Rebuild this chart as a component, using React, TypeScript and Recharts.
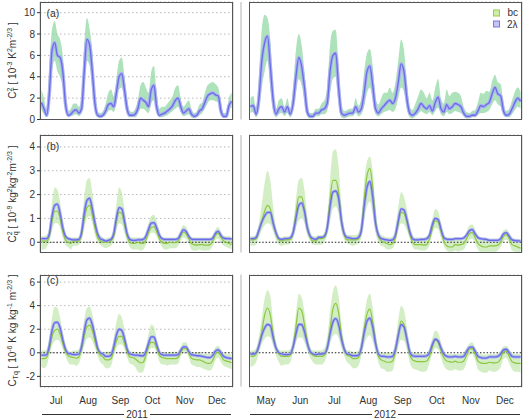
import React from 'react';
import {
  ComposedChart,
  Area,
  Line,
  XAxis,
  YAxis,
  CartesianGrid,
  ReferenceLine,
} from 'recharts';

const MONTHS_2011 = ['Jul', 'Aug', 'Sep', 'Oct', 'Nov', 'Dec'];
const MONTHS_2012 = ['May', 'Jun', 'Jul', 'Aug', 'Sep', 'Oct', 'Nov', 'Dec'];
// hour of day of each composite point inside one month slot
const HOURS = [1, 3, 5, 7, 9, 11, 13, 15, 17, 19, 21, 23];

const TICKS_A = [0, 2, 4, 6, 8, 10];
const TICKS_B = [0, 1, 2, 3, 4];
const TICKS_C = [-2, 0, 2, 4, 6];

// (a) C_T^2, 2011
const ct2Lam2011 = [
  1.6, 1.0, 0.4, 2.5, 6.5, 7.2, 6.0, 5.8, 4.5, 1.5, 0.4, 0.5,
  0.8, 0.9, 0.6, 1.0, 4.5, 7.5, 7.0, 4.5, 1.5, 0.4, 0.3, 0.4,
  0.8, 1.4, 1.5, 1.2, 2.5, 4.0, 4.3, 2.8, 1.0, 0.4, 0.4, 0.5,
  1.0, 2.0, 1.8, 1.6, 1.2, 2.8, 3.2, 1.2, 0.4, 0.5, 0.6, 0.8,
  1.0, 1.3, 1.8, 2.0, 1.2, 0.6, 0.8, 1.0, 0.5, 0.3, 0.4, 0.8,
  1.0, 1.6, 2.2, 2.4, 2.5, 2.3, 2.2, 0.8, 0.3, 0.3, 1.3, 1.7,
];
const ct2Hi2011 = [
  2.8, 2.0, 0.8, 5.0, 8.5, 9.2, 8.0, 7.5, 6.0, 2.5, 0.8, 1.0,
  1.5, 1.5, 1.2, 2.0, 7.0, 9.5, 8.5, 6.5, 2.5, 0.8, 0.6, 0.8,
  1.5, 2.5, 2.8, 2.2, 3.8, 5.5, 5.8, 4.0, 1.8, 0.8, 0.7, 1.0,
  1.8, 3.2, 3.5, 3.0, 2.5, 4.5, 5.0, 2.5, 1.0, 1.2, 1.2, 1.5,
  1.8, 2.2, 3.0, 3.2, 2.0, 1.2, 1.5, 1.8, 1.0, 0.6, 0.8, 1.4,
  1.6, 2.5, 3.2, 3.4, 3.5, 3.3, 3.0, 1.5, 0.6, 0.6, 2.0, 2.5,
];
const ct2Lo2011 = [
  0.9, 0.5, 0.2, 1.5, 4.5, 5.5, 4.5, 4.0, 3.0, 0.8, 0.2, 0.3,
  0.4, 0.5, 0.3, 0.6, 3.0, 5.5, 5.0, 3.0, 0.8, 0.2, 0.1, 0.2,
  0.4, 0.8, 0.9, 0.7, 1.5, 2.8, 3.0, 1.8, 0.5, 0.2, 0.2, 0.2,
  0.5, 1.0, 1.0, 0.8, 0.6, 1.5, 1.8, 0.6, 0.2, 0.2, 0.3, 0.4,
  0.6, 0.8, 1.0, 1.2, 0.7, 0.3, 0.4, 0.5, 0.2, 0.1, 0.2, 0.4,
  0.6, 1.0, 1.5, 1.8, 1.8, 1.7, 1.6, 0.5, 0.2, 0.2, 0.9, 1.1,
];

// (a) C_T^2, 2012
const ct2Lam2012 = [
  1.2, 1.3, 0.5, 2.0, 5.5, 7.2, 7.8, 5.0, 1.8, 0.5, 1.0, 1.2,
  0.7, 1.2, 0.5, 1.5, 4.0, 5.8, 5.0, 3.0, 0.7, 0.3, 0.3, 0.6,
  0.6, 0.9, 1.0, 1.5, 4.5, 6.0, 6.2, 3.0, 0.6, 0.4, 0.5, 0.6,
  0.6, 1.2, 0.7, 1.0, 2.5, 4.5, 5.0, 3.2, 1.0, 0.6, 1.0, 1.3,
  1.6, 1.8, 1.5, 2.0, 3.5, 5.2, 4.5, 2.0, 0.6, 0.4, 0.6, 1.0,
  1.5, 1.2, 1.0, 1.3, 0.8, 1.6, 2.1, 1.0, 0.7, 1.4, 1.0, 1.2,
  1.5, 1.4, 1.2, 0.6, 0.3, 0.3, 0.4, 0.4, 0.8, 1.3, 1.2, 1.4,
  1.6, 2.4, 3.0, 2.4, 2.2, 0.8, 0.4, 0.5, 1.0, 1.6, 2.0, 1.7,
];
const ct2Hi2012 = [
  2.0, 2.2, 1.0, 4.0, 8.5, 9.8, 9.5, 7.5, 3.0, 1.0, 1.8, 2.0,
  1.2, 2.0, 1.0, 3.0, 6.5, 8.0, 7.0, 4.5, 1.5, 0.6, 0.6, 1.0,
  1.0, 1.5, 1.8, 3.0, 7.0, 8.3, 8.4, 5.0, 1.4, 0.8, 0.9, 1.0,
  1.0, 2.0, 1.3, 2.0, 4.5, 6.2, 6.6, 5.0, 2.0, 1.4, 2.0, 2.5,
  2.5, 3.0, 2.5, 3.5, 5.5, 7.5, 6.5, 3.5, 1.2, 0.9, 1.5, 2.2,
  2.8, 2.5, 2.0, 2.5, 1.8, 3.0, 3.8, 2.0, 1.5, 2.8, 2.2, 2.5,
  2.6, 2.5, 2.2, 1.2, 0.7, 0.6, 0.8, 0.9, 1.6, 2.5, 2.4, 2.7,
  2.6, 3.6, 4.2, 3.5, 3.3, 1.5, 0.8, 1.0, 1.8, 2.6, 3.0, 2.6,
];
const ct2Lo2012 = [
  0.6, 0.7, 0.2, 1.0, 3.0, 4.5, 5.5, 3.0, 0.8, 0.2, 0.5, 0.6,
  0.3, 0.6, 0.2, 0.8, 2.5, 3.8, 3.2, 1.8, 0.3, 0.1, 0.1, 0.3,
  0.3, 0.5, 0.5, 0.8, 2.5, 3.8, 4.0, 1.5, 0.2, 0.1, 0.2, 0.3,
  0.3, 0.6, 0.3, 0.5, 1.2, 2.5, 3.0, 1.8, 0.5, 0.3, 0.5, 0.7,
  0.8, 0.9, 0.7, 1.0, 2.0, 3.0, 2.6, 1.0, 0.2, 0.1, 0.3, 0.5,
  0.8, 0.6, 0.5, 0.7, 0.4, 0.8, 1.1, 0.5, 0.3, 0.7, 0.5, 0.6,
  0.8, 0.7, 0.6, 0.3, 0.1, 0.1, 0.2, 0.2, 0.4, 0.6, 0.6, 0.7,
  0.9, 1.4, 1.8, 1.4, 1.2, 0.4, 0.2, 0.2, 0.5, 0.9, 1.2, 1.0,
];

// (b) C_q^2, 2011
const cq2Lam2011 = [
  0.15, 0.15, 0.15, 0.35, 1.1, 1.55, 1.6, 1.2, 0.6, 0.25, 0.15, 0.12,
  0.1, 0.1, 0.12, 0.4, 1.2, 1.75, 1.85, 1.4, 0.8, 0.35, 0.15, 0.1,
  0.05, 0.08, 0.12, 0.35, 1.0, 1.45, 1.4, 0.9, 0.35, 0.12, 0.08, 0.08,
  0.1, 0.1, 0.12, 0.25, 0.55, 0.8, 0.82, 0.6, 0.3, 0.15, 0.12, 0.12,
  0.12, 0.12, 0.12, 0.15, 0.35, 0.52, 0.45, 0.25, 0.13, 0.12, 0.12, 0.12,
  0.12, 0.12, 0.12, 0.12, 0.18, 0.38, 0.46, 0.28, 0.17, 0.15, 0.15, 0.13,
];
const cq2Bc2011 = [
  0.05, 0.05, 0.05, 0.25, 0.9, 1.3, 1.3, 1.0, 0.45, 0.1, 0.0, -0.05,
  0.05, 0.05, 0.05, 0.3, 0.95, 1.45, 1.55, 1.15, 0.6, 0.2, 0.05, 0.0,
  0.0, 0.0, 0.05, 0.25, 0.85, 1.25, 1.2, 0.75, 0.25, 0.0, -0.05, -0.05,
  0.0, -0.05, -0.05, 0.1, 0.4, 0.62, 0.65, 0.45, 0.15, 0.0, -0.05, -0.05,
  0.0, -0.02, -0.02, 0.05, 0.25, 0.42, 0.35, 0.15, -0.05, -0.1, -0.12, -0.1,
  -0.1, -0.12, -0.12, -0.1, 0.05, 0.3, 0.38, 0.2, 0.05, 0.0, -0.05, -0.1,
];
const cq2Hi2011 = [
  0.25, 0.25, 0.3, 0.6, 1.7, 2.3, 2.2, 1.7, 0.9, 0.4, 0.25, 0.2,
  0.2, 0.2, 0.25, 0.7, 1.9, 2.6, 2.7, 2.1, 1.2, 0.5, 0.3, 0.2,
  0.15, 0.2, 0.25, 0.6, 1.6, 2.3, 2.1, 1.4, 0.6, 0.25, 0.2, 0.2,
  0.2, 0.2, 0.2, 0.4, 0.8, 1.1, 1.15, 0.9, 0.5, 0.25, 0.2, 0.2,
  0.2, 0.2, 0.2, 0.25, 0.5, 0.72, 0.65, 0.4, 0.22, 0.2, 0.2, 0.2,
  0.2, 0.2, 0.2, 0.2, 0.3, 0.55, 0.65, 0.42, 0.28, 0.25, 0.25, 0.22,
];
const cq2Lo2011 = [
  -0.3, -0.3, -0.2, 0.05, 0.5, 0.8, 0.8, 0.6, 0.2, -0.1, -0.2, -0.3,
  -0.15, -0.15, -0.1, 0.1, 0.6, 1.0, 1.1, 0.8, 0.3, 0.0, -0.1, -0.2,
  -0.25, -0.2, -0.15, 0.05, 0.5, 0.8, 0.75, 0.4, 0.05, -0.2, -0.3, -0.3,
  -0.3, -0.35, -0.3, -0.1, 0.2, 0.4, 0.4, 0.25, 0.0, -0.2, -0.3, -0.3,
  -0.25, -0.25, -0.25, -0.15, 0.05, 0.2, 0.15, -0.05, -0.3, -0.35, -0.35, -0.3,
  -0.35, -0.35, -0.35, -0.3, -0.15, 0.1, 0.15, 0.0, -0.15, -0.2, -0.25, -0.3,
];

// (b) C_q^2, 2012
const cq2Lam2012 = [
  0.15, 0.15, 0.2, 0.5, 0.85, 1.1, 1.25, 1.25, 0.8, 0.4, 0.15, 0.12,
  0.15, 0.15, 0.18, 0.4, 1.0, 1.55, 1.65, 1.3, 0.6, 0.25, 0.15, 0.12,
  0.2, 0.2, 0.25, 0.6, 1.5, 2.1, 2.15, 1.85, 0.9, 0.35, 0.2, 0.18,
  0.15, 0.15, 0.2, 0.5, 1.5, 2.3, 2.55, 1.9, 0.8, 0.3, 0.15, 0.12,
  0.1, 0.08, 0.1, 0.3, 0.9, 1.4, 1.35, 0.95, 0.45, 0.15, 0.1, 0.1,
  0.12, 0.12, 0.15, 0.3, 0.75, 1.0, 0.95, 0.55, 0.2, 0.13, 0.12, 0.12,
  0.15, 0.15, 0.15, 0.18, 0.3, 0.48, 0.53, 0.35, 0.2, 0.15, 0.13, 0.12,
  0.08, 0.08, 0.08, 0.08, 0.15, 0.35, 0.4, 0.25, 0.1, 0.07, 0.06, 0.05,
];
const cq2Bc2012 = [
  0.1, 0.1, 0.15, 0.5, 0.9, 1.3, 1.55, 1.4, 0.8, 0.35, 0.1, 0.05,
  0.1, 0.1, 0.12, 0.4, 1.2, 1.9, 1.9, 1.4, 0.6, 0.2, 0.05, 0.05,
  0.15, 0.15, 0.2, 0.6, 1.8, 2.6, 2.6, 2.1, 0.9, 0.3, 0.1, 0.1,
  0.1, 0.1, 0.15, 0.5, 1.8, 2.8, 3.1, 2.3, 0.9, 0.25, 0.05, 0.0,
  -0.05, -0.1, -0.05, 0.2, 0.8, 1.25, 1.2, 0.85, 0.35, 0.0, -0.1, -0.1,
  -0.1, -0.12, -0.1, 0.15, 0.6, 0.9, 0.85, 0.45, 0.05, -0.15, -0.2, -0.2,
  -0.1, -0.12, -0.1, -0.05, 0.15, 0.35, 0.4, 0.2, -0.05, -0.15, -0.2, -0.2,
  -0.15, -0.15, -0.15, -0.12, 0.0, 0.25, 0.32, 0.15, -0.1, -0.15, -0.2, -0.25,
];
const cq2Hi2012 = [
  0.25, 0.25, 0.35, 0.8, 1.6, 2.5, 3.0, 2.6, 1.5, 0.6, 0.25, 0.2,
  0.25, 0.25, 0.3, 0.7, 1.8, 2.6, 2.7, 2.2, 1.1, 0.5, 0.25, 0.25,
  0.3, 0.3, 0.4, 1.0, 2.6, 3.8, 3.9, 3.2, 1.6, 0.6, 0.3, 0.3,
  0.3, 0.3, 0.4, 0.9, 2.5, 3.4, 3.6, 3.0, 1.5, 0.5, 0.3, 0.25,
  0.2, 0.2, 0.25, 0.6, 1.5, 2.1, 1.9, 1.4, 0.7, 0.3, 0.2, 0.2,
  0.2, 0.2, 0.25, 0.45, 1.0, 1.4, 1.3, 0.8, 0.35, 0.2, 0.2, 0.2,
  0.2, 0.2, 0.2, 0.25, 0.45, 0.7, 0.75, 0.55, 0.3, 0.2, 0.2, 0.2,
  0.15, 0.15, 0.15, 0.15, 0.25, 0.5, 0.55, 0.4, 0.2, 0.15, 0.12, 0.1,
];
const cq2Lo2012 = [
  -0.15, -0.15, -0.1, 0.2, 0.5, 0.7, 0.8, 0.75, 0.45, 0.1, -0.1, -0.15,
  -0.1, -0.1, -0.05, 0.15, 0.6, 0.9, 1.0, 0.8, 0.3, 0.05, -0.1, -0.1,
  -0.1, -0.1, 0.0, 0.3, 0.9, 1.4, 1.5, 1.2, 0.5, 0.1, -0.05, -0.1,
  -0.15, -0.1, -0.05, 0.2, 0.9, 1.5, 1.7, 1.2, 0.4, 0.0, -0.15, -0.2,
  -0.3, -0.3, -0.25, 0.0, 0.5, 0.8, 0.75, 0.5, 0.15, -0.2, -0.3, -0.3,
  -0.35, -0.35, -0.3, -0.1, 0.35, 0.6, 0.55, 0.2, -0.15, -0.35, -0.4, -0.4,
  -0.35, -0.4, -0.35, -0.3, -0.1, 0.1, 0.15, -0.05, -0.3, -0.4, -0.4, -0.4,
  -0.4, -0.4, -0.4, -0.35, -0.2, 0.05, 0.1, -0.05, -0.35, -0.4, -0.42, -0.42,
];

// (c) C_Tq, 2011
const ctqLam2011 = [
  -0.2, -0.2, -0.15, 0.6, 1.9, 2.55, 2.6, 2.1, 1.1, 0.3, -0.05, -0.1,
  -0.15, -0.15, -0.1, 0.5, 1.8, 2.8, 2.95, 2.4, 1.4, 0.4, 0.0, -0.1,
  -0.3, -0.3, -0.2, 0.5, 1.5, 2.0, 1.9, 1.2, 0.3, -0.1, -0.15, -0.2,
  -0.2, -0.25, -0.25, 0.1, 0.8, 1.35, 1.35, 0.7, 0.05, -0.15, -0.2, -0.2,
  -0.2, -0.2, -0.2, -0.15, 0.2, 0.5, 0.5, 0.1, -0.15, -0.2, -0.25, -0.25,
  -0.3, -0.35, -0.4, -0.4, -0.2, 0.15, 0.25, 0.0, -0.3, -0.4, -0.45, -0.5,
];
const ctqBc2011 = [
  -0.5, -0.5, -0.4, 0.3, 1.4, 1.9, 2.0, 1.6, 0.8, 0.1, -0.25, -0.35,
  -0.4, -0.45, -0.35, 0.3, 1.4, 2.2, 2.35, 1.9, 1.0, 0.2, -0.2, -0.35,
  -0.6, -0.6, -0.5, 0.2, 1.0, 1.4, 1.4, 0.8, 0.1, -0.35, -0.4, -0.5,
  -0.7, -0.85, -0.8, -0.2, 0.5, 0.9, 0.85, 0.4, -0.2, -0.4, -0.45, -0.5,
  -0.5, -0.5, -0.5, -0.4, 0.0, 0.35, 0.35, -0.05, -0.45, -0.55, -0.6, -0.6,
  -0.7, -0.8, -0.9, -0.9, -0.6, -0.1, 0.05, -0.25, -0.6, -0.7, -0.75, -0.85,
];
const ctqHi2011 = [
  0.2, 0.2, 0.3, 1.3, 3.0, 3.9, 3.8, 3.0, 1.7, 0.6, 0.2, 0.1,
  0.2, 0.2, 0.3, 1.2, 2.8, 3.8, 3.9, 3.3, 2.0, 0.7, 0.2, 0.1,
  0.1, 0.1, 0.2, 1.2, 2.6, 3.3, 3.0, 2.0, 0.8, 0.2, 0.1, 0.1,
  0.0, 0.0, 0.0, 0.5, 1.6, 2.4, 2.2, 1.2, 0.3, 0.0, 0.0, 0.0,
  0.1, 0.1, 0.1, 0.1, 0.5, 0.9, 0.9, 0.4, 0.1, 0.0, 0.0, 0.0,
  -0.1, -0.1, -0.1, -0.1, 0.1, 0.5, 0.6, 0.3, 0.0, -0.1, -0.1, -0.1,
];
const ctqLo2011 = [
  -1.2, -1.3, -1.1, -0.2, 0.6, 1.0, 1.1, 0.9, 0.3, -0.3, -0.8, -1.0,
  -1.0, -1.1, -0.9, -0.2, 0.6, 1.2, 1.3, 1.0, 0.4, -0.3, -0.8, -1.0,
  -1.3, -1.3, -1.1, -0.3, 0.4, 0.7, 0.7, 0.3, -0.4, -0.9, -1.0, -1.2,
  -1.6, -1.7, -1.6, -0.8, 0.0, 0.4, 0.4, 0.0, -0.7, -1.0, -1.0, -1.1,
  -1.0, -1.0, -1.0, -0.9, -0.3, 0.1, 0.1, -0.4, -1.0, -1.1, -1.2, -1.2,
  -1.3, -1.4, -1.5, -1.5, -1.2, -0.6, -0.4, -0.8, -1.1, -1.2, -1.3, -1.4,
];

// (c) C_Tq, 2012
const ctqLam2012 = [
  -0.1, -0.1, 0.0, 0.6, 1.5, 2.1, 2.4, 2.3, 1.3, 0.4, 0.0, -0.1,
  -0.15, -0.15, -0.1, 0.5, 1.6, 2.4, 2.4, 1.8, 0.8, 0.1, -0.1, -0.15,
  -0.1, -0.1, -0.05, 0.4, 1.6, 2.6, 2.9, 2.4, 1.2, 0.3, -0.1, -0.15,
  -0.25, -0.25, -0.2, 0.4, 1.7, 2.7, 2.95, 2.2, 0.8, -0.1, -0.3, -0.3,
  -0.35, -0.35, -0.3, 0.3, 1.5, 2.4, 2.2, 1.2, 0.1, -0.25, -0.3, -0.3,
  -0.3, -0.3, -0.25, 0.0, 0.7, 1.15, 1.0, 0.4, -0.1, -0.3, -0.35, -0.35,
  -0.3, -0.35, -0.35, -0.3, 0.1, 0.45, 0.5, 0.15, -0.3, -0.4, -0.45, -0.45,
  -0.35, -0.35, -0.35, -0.3, -0.1, 0.25, 0.3, 0.0, -0.3, -0.35, -0.35, -0.35,
];
const ctqBc2012 = [
  -0.3, -0.3, -0.1, 0.6, 1.8, 3.2, 3.8, 3.2, 1.6, 0.4, -0.1, -0.3,
  -0.3, -0.3, -0.2, 0.5, 2.2, 3.8, 3.6, 2.4, 1.0, 0.1, -0.2, -0.3,
  -0.3, -0.3, -0.2, 0.4, 2.0, 3.7, 4.2, 3.4, 1.5, 0.3, -0.2, -0.3,
  -0.5, -0.5, -0.4, 0.4, 2.0, 3.3, 3.7, 2.6, 1.0, -0.3, -0.6, -0.7,
  -0.8, -0.8, -0.7, 0.1, 1.5, 2.7, 2.4, 1.2, -0.1, -0.6, -0.7, -0.75,
  -0.75, -0.75, -0.7, -0.3, 0.5, 1.1, 0.9, 0.2, -0.4, -0.7, -0.75, -0.8,
  -0.7, -0.8, -0.8, -0.7, -0.2, 0.3, 0.35, -0.1, -0.7, -0.85, -0.9, -0.9,
  -0.8, -0.85, -0.85, -0.8, -0.5, 0.1, 0.15, -0.3, -0.75, -0.85, -0.9, -0.9,
];
const ctqHi2012 = [
  0.2, 0.2, 0.4, 1.4, 3.0, 4.6, 5.3, 4.8, 2.6, 0.9, 0.3, 0.2,
  0.2, 0.2, 0.3, 1.3, 3.3, 5.0, 4.7, 3.5, 1.8, 0.5, 0.2, 0.2,
  0.2, 0.2, 0.4, 1.3, 3.5, 5.2, 5.7, 4.8, 2.5, 0.8, 0.2, 0.2,
  0.1, 0.1, 0.2, 1.2, 3.0, 4.5, 5.0, 3.8, 1.8, 0.3, 0.0, 0.0,
  0.0, 0.0, 0.1, 1.0, 2.8, 4.0, 3.6, 2.2, 0.6, 0.0, 0.0, 0.0,
  -0.1, -0.1, 0.0, 0.4, 1.3, 1.9, 1.7, 0.9, 0.2, -0.1, -0.1, -0.1,
  -0.1, -0.1, -0.1, 0.0, 0.4, 0.8, 0.9, 0.5, 0.0, -0.1, -0.15, -0.15,
  -0.1, -0.1, -0.1, -0.05, 0.2, 0.55, 0.6, 0.3, 0.0, -0.1, -0.1, -0.1,
];
const ctqLo2012 = [
  -1.2, -1.1, -0.8, 0.0, 0.8, 1.2, 1.4, 1.3, 0.6, -0.2, -0.8, -1.1,
  -1.0, -1.0, -0.8, 0.0, 0.9, 1.3, 1.3, 0.9, 0.2, -0.4, -0.8, -1.0,
  -1.0, -1.0, -0.8, -0.1, 0.8, 1.4, 1.6, 1.3, 0.4, -0.3, -0.8, -1.0,
  -1.3, -1.3, -1.1, -0.3, 0.7, 1.3, 1.5, 1.0, 0.1, -0.8, -1.3, -1.4,
  -1.6, -1.6, -1.5, -0.5, 0.5, 1.1, 1.0, 0.3, -0.8, -1.3, -1.4, -1.5,
  -1.6, -1.6, -1.5, -0.8, -0.1, 0.4, 0.3, -0.4, -1.1, -1.4, -1.5, -1.5,
  -1.4, -1.5, -1.5, -1.4, -0.8, -0.2, -0.1, -0.6, -1.4, -1.6, -1.7, -1.7,
  -1.5, -1.6, -1.6, -1.5, -1.2, -0.5, -0.4, -0.9, -1.4, -1.6, -1.6, -1.7,
];

const FONT = "'Liberation Sans', Arial, Helvetica, sans-serif";
const TXT = '#333';
const BLUE = '#6b6be6';
const BLUE_BAND = '#aab2f2';
const BC_LINE = '#8dc63f';
const PAD = 7; // room above/below the plot so edge tick labels are not clipped

type Row = { x: number; lam: number; bc: number | null; band: [number, number] };

function buildRows(nMonths: number, lam: number[], hi: number[], lo: number[], bc?: number[]): Row[] {
  const rows: Row[] = [];
  for (let m = 0; m < nMonths; m++) {
    HOURS.forEach((h, k) => {
      const i = m * HOURS.length + k;
      rows.push({ x: m + h / 24, lam: lam[i], bc: bc ? bc[i] : null, band: [lo[i], hi[i]] });
    });
  }
  return rows;
}

interface PanelProps {
  left: number;
  top: number;
  plotW: number;
  plotH: number;
  yAxisW: number;
  domain: [number, number];
  ticks: number[];
  rows: Row[];
  months: string[];
  showLabels?: boolean;
  showZero?: boolean;
  showBc?: boolean;
  bandFill: string;
  bandOpacity: number;
  blueBandW: number;
}

const Panel: React.FC<PanelProps> = (p) => {
  const n = p.months.length;
  const bounds = Array.from({ length: n - 1 }, (_, i) => i + 1);
  const centers = p.months.map((_, i) => i + 0.5);
  const labelH = p.showLabels ? 24 : 0;
  const bottomPad = p.showLabels ? 0 : PAD;
  return (
    <div style={{ position: 'absolute', left: p.left - p.yAxisW, top: p.top - PAD }}>
      <ComposedChart
        width={p.yAxisW + p.plotW + 2}
        height={PAD + p.plotH + labelH + bottomPad}
        data={p.rows}
        margin={{ top: PAD, right: 2, bottom: bottomPad, left: 0 }}
      >
        <XAxis
          xAxisId="m"
          type="number"
          dataKey="x"
          domain={[0, n]}
          ticks={bounds}
          interval={0}
          mirror
          tick={false}
          tickSize={4}
          tickLine={{ stroke: '#222', strokeWidth: 1.2 }}
          axisLine={false}
          height={0}
          allowDataOverflow
        />
        {p.showLabels && (
          <XAxis
            xAxisId="lab"
            type="number"
            dataKey="x"
            domain={[0, n]}
            ticks={centers}
            interval={0}
            tickFormatter={(v: number) => p.months[Math.round(v - 0.5)]}
            tickLine={false}
            axisLine={false}
            tickSize={8}
            tickMargin={2}
            tick={{ fill: TXT, fontSize: 10 }}
            height={labelH}
          />
        )}
        {p.yAxisW > 0 ? (
          <YAxis
            type="number"
            domain={p.domain}
            ticks={p.ticks}
            interval={0}
            allowDataOverflow
            width={p.yAxisW}
            axisLine={false}
            tickSize={3}
            tickMargin={2}
            tickLine={{ stroke: TXT }}
            tick={{ fill: TXT, fontSize: 10 }}
          />
        ) : (
          <YAxis
            type="number"
            domain={p.domain}
            ticks={p.ticks}
            interval={0}
            allowDataOverflow
            width={0}
            axisLine={false}
            tickLine={false}
            tick={false}
          />
        )}
        <CartesianGrid xAxisId="m" horizontal={false} stroke="#cccccc" strokeWidth={1.2} />
        <CartesianGrid xAxisId="m" vertical={false} stroke="#b8b8b8" strokeDasharray="1.5 2.5" />
        <Area
          xAxisId="m"
          type="monotone"
          dataKey="band"
          stroke="none"
          fill={p.bandFill}
          fillOpacity={p.bandOpacity}
          isAnimationActive={false}
        />
        {p.showZero && (
          <ReferenceLine xAxisId="m" y={0} stroke="#222" strokeDasharray="1.5 1.8" strokeWidth={1.1} />
        )}
        <Line
          xAxisId="m"
          type="monotone"
          dataKey="lam"
          stroke={BLUE_BAND}
          strokeWidth={p.blueBandW}
          dot={false}
          isAnimationActive={false}
        />
        {p.showBc && (
          <Line
            xAxisId="m"
            type="monotone"
            dataKey="bc"
            stroke={BC_LINE}
            strokeWidth={1.2}
            dot={false}
            isAnimationActive={false}
          />
        )}
        <Line
          xAxisId="m"
          type="monotone"
          dataKey="lam"
          stroke={BLUE}
          strokeWidth={1.3}
          dot={false}
          isAnimationActive={false}
        />
      </ComposedChart>
      <div
        style={{
          position: 'absolute',
          left: p.yAxisW,
          top: PAD,
          width: p.plotW,
          height: p.plotH,
          border: '1.3px solid #555',
          boxSizing: 'border-box',
          pointerEvents: 'none',
        }}
      />
    </div>
  );
};

const L = { x: 40, w: 193 };
const R = { x: 248.5, w: 273 };
const ROWS = [
  { top: 2, h: 117.5 },
  { top: 135, h: 117.5 },
  { top: 274.5, h: 112 },
];

const SUP = { fontSize: 7 };

export default function App() {
  const a11 = buildRows(6, ct2Lam2011, ct2Hi2011, ct2Lo2011);
  const a12 = buildRows(8, ct2Lam2012, ct2Hi2012, ct2Lo2012);
  const b11 = buildRows(6, cq2Lam2011, cq2Hi2011, cq2Lo2011, cq2Bc2011);
  const b12 = buildRows(8, cq2Lam2012, cq2Hi2012, cq2Lo2012, cq2Bc2012);
  const c11 = buildRows(6, ctqLam2011, ctqHi2011, ctqLo2011, ctqBc2011);
  const c12 = buildRows(8, ctqLam2012, ctqHi2012, ctqLo2012, ctqBc2012);

  const domA: [number, number] = [0, 11];
  const domB: [number, number] = [-0.43, 4.5];
  const domC: [number, number] = [-2.9, 6.6];
  const greenA = { bandFill: '#93d8a4', bandOpacity: 0.75 };
  const greenBC = { bandFill: '#b6e39c', bandOpacity: 0.6 };

  return (
    <div style={{ position: 'absolute', left: 0, top: 0, width: 524, height: 419, background: '#fff', fontFamily: FONT, overflow: 'hidden' }}>
      <Panel left={L.x} top={ROWS[0].top} plotW={L.w} plotH={ROWS[0].h} yAxisW={40} domain={domA} ticks={TICKS_A} rows={a11} months={MONTHS_2011} blueBandW={3.5} {...greenA} />
      <Panel left={R.x} top={ROWS[0].top} plotW={R.w} plotH={ROWS[0].h} yAxisW={0} domain={domA} ticks={TICKS_A} rows={a12} months={MONTHS_2012} blueBandW={3.5} {...greenA} />
      <Panel left={L.x} top={ROWS[1].top} plotW={L.w} plotH={ROWS[1].h} yAxisW={40} domain={domB} ticks={TICKS_B} rows={b11} months={MONTHS_2011} showZero showBc blueBandW={3} {...greenBC} />
      <Panel left={R.x} top={ROWS[1].top} plotW={R.w} plotH={ROWS[1].h} yAxisW={0} domain={domB} ticks={TICKS_B} rows={b12} months={MONTHS_2012} showZero showBc blueBandW={3} {...greenBC} />
      <Panel left={L.x} top={ROWS[2].top} plotW={L.w} plotH={ROWS[2].h} yAxisW={40} domain={domC} ticks={TICKS_C} rows={c11} months={MONTHS_2011} showZero showBc showLabels blueBandW={3} {...greenBC} />
      <Panel left={R.x} top={ROWS[2].top} plotW={R.w} plotH={ROWS[2].h} yAxisW={0} domain={domC} ticks={TICKS_C} rows={c12} months={MONTHS_2012} showZero showBc showLabels blueBandW={3} {...greenBC} />

      <svg width={524} height={419} style={{ position: 'absolute', left: 0, top: 0, pointerEvents: 'none' }}>
        {ROWS.map((r, i) => (
          <line key={i} x1={241} x2={241} y1={r.top} y2={r.top + r.h} stroke="#cccccc" strokeWidth={1.5} />
        ))}

        <g fill={TXT} fontSize={10.5}>
          <text x={46.5} y={16.5}>(a)</text>
          <text x={46.5} y={150}>(b)</text>
          <text x={46.5} y={284}>(c)</text>
        </g>

        <g fontSize={10} fill={TXT}>
          <text transform="translate(15.5,60.5) rotate(-90)" textAnchor="middle">
            <tspan>C</tspan>
            <tspan {...SUP} dy={-4}>2</tspan>
            <tspan {...SUP} dx={-3.9} dy={6.5}>T</tspan>
            <tspan dy={-2.5}>{' [ 10'}</tspan>
            <tspan {...SUP} dy={-4}>-3</tspan>
            <tspan dy={4}>{' K'}</tspan>
            <tspan {...SUP} dy={-4}>2</tspan>
            <tspan dy={4}>m</tspan>
            <tspan {...SUP} dy={-4}>-2/3</tspan>
            <tspan dy={4}>{' ]'}</tspan>
          </text>
          <text transform="translate(15.5,194) rotate(-90)" textAnchor="middle">
            <tspan>C</tspan>
            <tspan {...SUP} dy={-4}>2</tspan>
            <tspan {...SUP} dx={-3.9} dy={6.5}>q</tspan>
            <tspan dy={-2.5}>{' [ 10'}</tspan>
            <tspan {...SUP} dy={-4}>-9</tspan>
            <tspan dy={4}>{' kg'}</tspan>
            <tspan {...SUP} dy={-4}>2</tspan>
            <tspan dy={4}>kg</tspan>
            <tspan {...SUP} dy={-4}>-2</tspan>
            <tspan dy={4}>m</tspan>
            <tspan {...SUP} dy={-4}>-2/3</tspan>
            <tspan dy={4}>{' ]'}</tspan>
          </text>
          <text transform="translate(15.5,330.5) rotate(-90)" textAnchor="middle">
            <tspan>C</tspan>
            <tspan {...SUP} dy={2.5}>Tq</tspan>
            <tspan dy={-2.5}>{' [ 10'}</tspan>
            <tspan {...SUP} dy={-4}>-6</tspan>
            <tspan dy={4}>{' K kg kg'}</tspan>
            <tspan {...SUP} dy={-4}>-1</tspan>
            <tspan dy={4}>{' m'}</tspan>
            <tspan {...SUP} dy={-4}>-2/3</tspan>
            <tspan dy={4}>{' ]'}</tspan>
          </text>
        </g>

        <rect x={493.5} y={10} width={6} height={6} fill="#cdeea6" stroke="#9ccc4a" strokeWidth={1} />
        <rect x={493.5} y={21} width={6} height={6} fill="#c4c4f6" stroke="#7a7ae6" strokeWidth={1} />
        <text x={507.5} y={16.3} fontSize={10} fill={TXT}>bc</text>
        <text x={507} y={27.5} fontSize={10} fill={TXT}>2λ</text>

        <g stroke={TXT} strokeWidth={1}>
          <line x1={42} x2={124} y1={414.5} y2={414.5} />
          <line x1={150} x2={231} y1={414.5} y2={414.5} />
          <line x1={250} x2={372} y1={414.5} y2={414.5} />
          <line x1={398} x2={520} y1={414.5} y2={414.5} />
        </g>
        <text x={137} y={418} fontSize={10} fill={TXT} textAnchor="middle">2011</text>
        <text x={385} y={418} fontSize={10} fill={TXT} textAnchor="middle">2012</text>
      </svg>
    </div>
  );
}
